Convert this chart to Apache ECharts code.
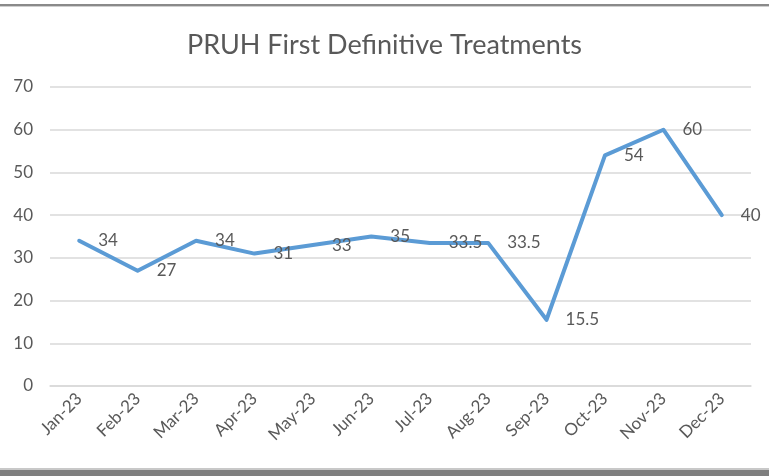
<!DOCTYPE html>
<html>
<head>
<meta charset="utf-8">
<script src="https://cdn.jsdelivr.net/npm/echarts@6/dist/echarts.min.js"></script>
<style>
html,body{margin:0;padding:0;background:#fff;}
#chart{width:769px;height:476px;}
</style>
</head>
<body>
<div id="chart"></div>
<script>
const titleText = "PRUH First Definitive Treatments";
const categories = ["Jan-23","Feb-23","Mar-23","Apr-23","May-23","Jun-23","Jul-23","Aug-23","Sep-23","Oct-23","Nov-23","Dec-23"];
const treatments = [34, 27, 34, 31, 33, 35, 33.5, 33.5, 15.5, 54, 60, 40];
const yTicks = [0, 10, 20, 30, 40, 50, 60, 70];

const FONT = "Lato";
const TXT = "#595959";
const chart = echarts.init(document.getElementById('chart'), null, {renderer: 'canvas'});
chart.setOption({
  animation: false,
  backgroundColor: '#ffffff',
  title: {
    text: titleText,
    left: 'center',
    top: 27,
    textStyle: {fontFamily: FONT, fontSize: 27, fontWeight: 'normal', color: TXT}
  },
  grid: {left: 50, right: 18, top: 87, bottom: 90, containLabel: false},
  xAxis: {
    type: 'category',
    data: categories,
    boundaryGap: true,
    axisLine: {show: true, lineStyle: {color: '#d9d9d9', width: 1.5}},
    axisTick: {show: false},
    axisLabel: {rotate: 45, fontFamily: FONT, fontSize: 17, color: TXT, margin: 10, interval: 0}
  },
  yAxis: {
    type: 'value',
    min: yTicks[0],
    max: yTicks[yTicks.length - 1],
    interval: 10,
    axisLine: {show: false},
    axisTick: {show: false},
    splitLine: {lineStyle: {color: '#d9d9d9', width: 1.5}},
    axisLabel: {fontFamily: FONT, fontSize: 17, color: TXT, margin: 17}
  },
  series: [{
    type: 'line',
    data: treatments,
    symbol: 'circle',
    symbolSize: 0,
    showSymbol: true,
    lineStyle: {color: '#5b9bd5', width: 4, cap: 'round', join: 'round'},
    itemStyle: {color: '#5b9bd5'},
    label: {show: true, position: 'right', distance: 19, fontFamily: FONT, fontSize: 17, color: TXT},
    emphasis: {disabled: true}
  }],
  graphic: [
    {type: 'rect', shape: {x: 0, y: 4, width: 769, height: 2}, style: {fill: '#8a8a8a'}},
    {type: 'rect', shape: {x: 0, y: 6, width: 769, height: 1}, style: {fill: '#cfcfcf'}},
    {type: 'rect', shape: {x: 0, y: 468, width: 769, height: 2}, style: {fill: '#c8c8c8'}},
    {type: 'rect', shape: {x: 0, y: 470, width: 769, height: 6}, style: {fill: '#7f7f7f'}}
  ]
});
</script>
</body>
</html>
